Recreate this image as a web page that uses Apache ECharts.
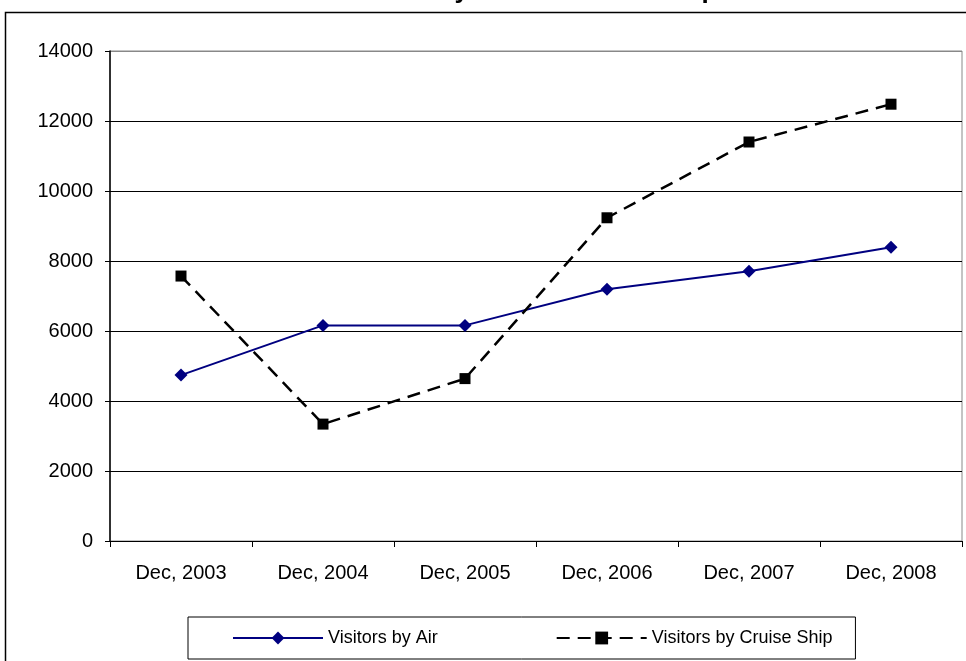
<!DOCTYPE html>
<html>
<head>
<meta charset="utf-8">
<script src="https://cdn.jsdelivr.net/npm/echarts@6/dist/echarts.min.js"></script>
<style>
  html, body { margin: 0; padding: 0; background: #fff; }
  #chart { width: 966px; height: 661px; }
</style>
</head>
<body>
<div id="chart"></div>
<script>
const categories = ["Dec, 2003", "Dec, 2004", "Dec, 2005", "Dec, 2006", "Dec, 2007", "Dec, 2008"];
const byAir = [4740, 6160, 6160, 7195, 7710, 8390];
const byCruise = [7570, 3340, 4640, 9235, 11400, 12480];
const titleText = "Visitors by Air and Cruise Ship";

const font = "Liberation Sans";
const myChart = echarts.init(document.getElementById("chart"));

const option = {
  animation: false,
  backgroundColor: "#ffffff",
  textStyle: { fontFamily: font },
  graphic: [
    {
      // outer chart frame, runs off the right and bottom edge
      type: "rect",
      shape: { x: 5.5, y: 12.5, width: 1000, height: 700 },
      style: { fill: "none", stroke: "#000", lineWidth: 1.5 },
      z: 0
    },
    {
      // title sits above the picture, only its descenders show
      type: "text",
      x: 527,
      y: 4,
      style: {
        text: titleText,
        font: "bold 26px " + font,
        fill: "#000",
        align: "center",
        verticalAlign: "bottom"
      }
    }
  ],
  grid: {
    left: 110,
    right: 4,
    top: 51,
    bottom: 120,
    show: true,
    borderColor: "#888",
    borderWidth: 1
  },
  legend: {
    left: 188,
    top: 617,
    padding: [12, 23, 12, 44],
    borderColor: "#000",
    borderWidth: 1,
    itemWidth: 90,
    itemHeight: 16,
    itemGap: 118,
    textStyle: { fontSize: 18, color: "#000", fontFamily: font },
    data: ["Visitors by Air", "Visitors by Cruise Ship"]
  },
  xAxis: {
    type: "category",
    data: categories,
    boundaryGap: true,
    axisLine: { lineStyle: { color: "#000", width: 1 } },
    axisTick: { show: true, length: 6, lineStyle: { color: "#000" } },
    axisLabel: { color: "#000", fontSize: 20, margin: 22, fontFamily: font },
    splitLine: { show: false }
  },
  yAxis: {
    type: "value",
    min: 0,
    max: 14000,
    interval: 2000,
    axisLine: { show: true, lineStyle: { color: "#000", width: 1.5 } },
    axisTick: { show: true, length: 5, lineStyle: { color: "#000" } },
    axisLabel: {
      color: "#000",
      fontSize: 20,
      margin: 17,
      fontFamily: font,
      formatter: function(v) {
        return String(v);
      }
    },
    splitLine: {
      show: true,
      lineStyle: {
        color: ["#000", "#000", "#000", "#000", "#000", "#000", "#000", "#888"],
        width: 1
      }
    }
  },
  series: [
    {
      name: "Visitors by Air",
      type: "line",
      data: byAir,
      symbol: "diamond",
      symbolSize: 13,
      color: "#000080",
      lineStyle: { color: "#000080", width: 2 },
      itemStyle: { color: "#000080" }
    },
    {
      name: "Visitors by Cruise Ship",
      type: "line",
      data: byCruise,
      symbol: "rect",
      symbolSize: 11,
      color: "#000",
      lineStyle: { color: "#000", width: 2.5, type: [13, 8] },
      itemStyle: { color: "#000" }
    }
  ]
};

myChart.setOption(option);
</script>
</body>
</html>
